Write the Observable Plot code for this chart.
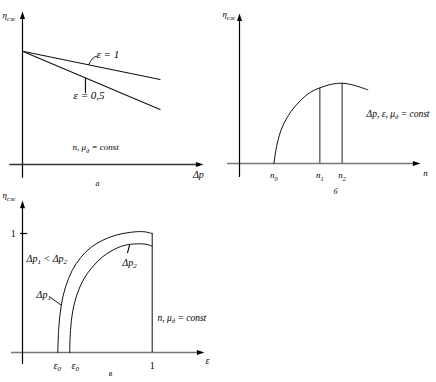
<!DOCTYPE html>
<html><head><meta charset="utf-8">
<script src="https://cdn.jsdelivr.net/npm/d3@7"></script>
<script src="https://cdn.jsdelivr.net/npm/@observablehq/plot@0.6"></script>
<style>
body{margin:0;background:#fff;}
#fig{position:relative;width:436px;height:382px;overflow:hidden;background:#fff;}
#fig svg{position:absolute;font-family:"Liberation Serif","Times New Roman",serif;}
#fig svg text, #fig svg tspan{font-family:"Liberation Serif","Times New Roman",serif;}
</style></head><body><div id="fig"></div>
<script>
// ---------- Panel а: η_сж vs Δp ----------
const dpA = [0, 0.76];
const etaEps1 = [0.74, 0.556];
const etaEps05 = [0.74, 0.36];
const leaderEps1X = [0.366, 0.385, 0.409];
const leaderEps1Y = [0.653, 0.69, 0.708];
const leaderEps05X = [0.348, 0.348];
const leaderEps05Y = [0.563, 0.47];
const labelsAText = ["η_{сж}", "ε = 1", "ε = 0,5", "n, μ_{д} = const", "а", "Δp"];
const labelsAX = [-0.11, 0.409, 0.282, 0.276, 0.414, 0.972];
const labelsAY = [0.974, 0.719, 0.451, 0.111, -0.124, -0.065];

// ---------- Panel б: η_сж vs n ----------
const nCurve = [0.19, 0.208, 0.236, 0.282, 0.337, 0.392, 0.444, 0.503, 0.567, 0.631, 0.709];
const etaCurveN = [0, 0.131, 0.242, 0.342, 0.42, 0.475, 0.504, 0.527, 0.535, 0.522, 0.491];
const nVert = [0.444, 0.567];
const etaVert = [0.504, 0.535];
const labelsBText = ["η_{сж}", "n_{0}", "n_{1}", "n_{2}", "n", "б", "Δp, ε, μ_{д} = const"];
const labelsBX = [-0.094, 0.19, 0.444, 0.567, 1.028, 0.53, 0.702];
const labelsBY = [0.993, -0.08, -0.08, -0.08, -0.067, -0.187, 0.333];

// ---------- Panel в: η_сж vs ε ----------
const epsOuter = [0.272, 0.280, 0.299, 0.331, 0.383, 0.447, 0.524, 0.614, 0.717, 0.833, 0.935, 1.0];
const etaOuter = [0, 0.213, 0.395, 0.549, 0.689, 0.796, 0.880, 0.941, 0.985, 1.010, 1.015, 1.0];
const epsInner = [0.364, 0.370, 0.388, 0.422, 0.473, 0.538, 0.614, 0.691, 0.781, 0.884, 0.961, 1.0];
const etaInner = [0, 0.185, 0.353, 0.493, 0.619, 0.717, 0.801, 0.857, 0.899, 0.913, 0.908, 0.893];
const leaderDp1X = [0.216, 0.296];
const leaderDp1Y = [0.462, 0.40];
const leaderDp2X = [0.81, 0.826];
const leaderDp2Y = [0.84, 0.905];
const labelsCText = ["η_{сж}", "Δp_{1} < Δp_{2}", "Δp_{1}", "Δp_{2}", "n, μ_{д} = const", "ε_{0}", "ε_{0}", "ε", "в"];
const labelsCX = [-0.154, 0.031, 0.108, 0.77, 1.04, 0.239, 0.378, 1.426, 0.678];
const labelsCY = [1.319, 0.79, 0.487, 0.756, 0.294, -0.109, -0.109, -0.067, -0.176];
const tickLabelsC = ["1", "1"];
const tickLabelsCX = [-0.072, 1.0];
const tickLabelsCY = [1.0, -0.109];

// ---------- helpers ----------
const zip = (xs, ys) => xs.map((x, i) => ({x, y: ys[i]}));
const arrowRight = {draw(ctx, size) { const s = Math.sqrt(size); ctx.moveTo(0, 0); ctx.lineTo(-s, -s * 0.33); ctx.lineTo(-s, s * 0.33); ctx.closePath(); }};
const arrowUp = {draw(ctx, size) { const s = Math.sqrt(size); ctx.moveTo(0, 0); ctx.lineTo(-s * 0.33, s); ctx.lineTo(s * 0.33, s); ctx.closePath(); }};

function axes(xr, yr, ux, uy, xStroke) {
  return [
    Plot.ruleY([0], {x1: xr[0], x2: xr[1] - 4 / ux, stroke: xStroke, strokeWidth: 1.7}),
    Plot.ruleX([0], {y1: yr[0], y2: yr[1] - 4 / uy, stroke: "#000", strokeWidth: 1.2}),
    Plot.dot([{x: xr[1], y: 0}], {x: "x", y: "y", symbol: arrowRight, r: 4.3, fill: "#000", stroke: "none"}),
    Plot.dot([{x: 0, y: yr[1]}], {x: "x", y: "y", symbol: arrowUp, r: 4.3, fill: "#000", stroke: "none"})
  ];
}
function labels(texts, xs, ys, anchors, sizes, styles) {
  return texts.map((t, i) => Plot.text([{x: xs[i], y: ys[i], t}], {
    x: "x", y: "y", text: "t", textAnchor: anchors[i], fontSize: sizes[i],
    fontFamily: "Liberation Serif",
    fontStyle: styles ? styles[i] : "italic", fill: "#000"
  }));
}
function subscripts(svg) {
  svg.querySelectorAll("text").forEach(t => {
    const s = t.textContent;
    if (!s.includes("_{")) return;
    t.textContent = "";
    const re = /_\{([^}]*)\}/g;
    let last = 0, m, afterSub = false;
    const ns = "http://www.w3.org/2000/svg";
    const addNormal = str => {
      if (!str) return;
      const ts = document.createElementNS(ns, "tspan");
      ts.textContent = str;
      if (afterSub) ts.setAttribute("dy", "-0.25em");
      afterSub = false;
      t.appendChild(ts);
    };
    while ((m = re.exec(s))) {
      addNormal(s.slice(last, m.index));
      if (afterSub) { const sp = document.createElementNS(ns, "tspan"); sp.setAttribute("dy", "-0.25em"); sp.textContent = "\u200a"; t.appendChild(sp); afterSub = false; }
      const sub = document.createElementNS(ns, "tspan");
      sub.setAttribute("font-size", "70%");
      sub.setAttribute("dy", "0.357em");
      sub.textContent = m[1];
      t.appendChild(sub);
      afterSub = true;
      last = re.lastIndex;
    }
    addNormal(s.slice(last));
  });
}
function panel({left, top, width, height, ox, oy, ux, uy, marks}) {
  const svg = Plot.plot({
    width, height,
    marginTop: 0, marginRight: 0, marginBottom: 0, marginLeft: 0,
    x: {domain: [-ox / ux, (width - ox) / ux], axis: null},
    y: {domain: [(oy - height) / uy, oy / uy], axis: null},
    style: {background: "transparent", overflow: "visible"},
    marks
  });
  svg.style.left = left + "px";
  svg.style.top = top + "px";
  subscripts(svg);
  document.getElementById("fig").appendChild(svg);
}

// ---------- Panel а ----------
panel({
  left: 0, top: 0, width: 218, height: 190, ox: 22, oy: 164, ux: 181, uy: 153,
  marks: [
    ...axes([-0.07, 1.0], [-0.09, 1.0], 181, 153, "#333"),
    Plot.line(zip(dpA, etaEps1), {x: "x", y: "y", stroke: "#111", strokeWidth: 1.1}),
    Plot.line(zip(dpA, etaEps05), {x: "x", y: "y", stroke: "#111", strokeWidth: 1.1}),
    Plot.line(zip(leaderEps1X, leaderEps1Y), {x: "x", y: "y", stroke: "#111", strokeWidth: 1, curve: "natural"}),
    Plot.line(zip(leaderEps05X, leaderEps05Y), {x: "x", y: "y", stroke: "#111", strokeWidth: 1.2}),
    ...labels(labelsAText, labelsAX, labelsAY,
      ["start", "start", "start", "start", "middle", "middle"], [9, 11, 11, 9, 8, 10])
  ]
});

// ---------- Panel б ----------
panel({
  left: 218, top: 0, width: 218, height: 198, ox: 21, oy: 163, ux: 181, uy: 150,
  marks: [
    ...axes([-0.066, 1.0], [-0.093, 1.0], 181, 150, "#777"),
    Plot.line(zip(nCurve, etaCurveN), {x: "x", y: "y", stroke: "#111", strokeWidth: 1, curve: "catmull-rom"}),
    Plot.ruleX(zip(nVert, etaVert), {x: "x", y1: 0, y2: "y", stroke: "#222", strokeWidth: 1}),
    ...labels(labelsBText, labelsBX, labelsBY,
      ["start", "middle", "middle", "middle", "middle", "middle", "start"], [9, 9, 9, 9, 9, 8, 9.5])
  ]
});

// ---------- Panel в ----------
panel({
  left: 0, top: 190, width: 218, height: 192, ox: 22, oy: 162, ux: 129.7, uy: 119,
  marks: [
    ...axes([-0.085, 1.403], [-0.1, 1.277], 129.7, 119, "#777"),
    Plot.ruleY([1], {x1: -0.015, x2: 0.04, stroke: "#000", strokeWidth: 1.2}),
    Plot.line(zip(epsOuter, etaOuter), {x: "x", y: "y", stroke: "#111", strokeWidth: 1, curve: "catmull-rom"}),
    Plot.line(zip(epsInner, etaInner), {x: "x", y: "y", stroke: "#111", strokeWidth: 1, curve: "catmull-rom"}),
    Plot.ruleX([1], {y1: 0, y2: etaOuter[etaOuter.length - 1], stroke: "#111", strokeWidth: 1}),
    Plot.line(zip(leaderDp1X, leaderDp1Y), {x: "x", y: "y", stroke: "#111", strokeWidth: 1}),
    Plot.line(zip(leaderDp2X, leaderDp2Y), {x: "x", y: "y", stroke: "#111", strokeWidth: 1.2}),
    ...labels(labelsCText, labelsCX, labelsCY,
      ["start", "start", "start", "start", "start", "start", "start", "middle", "middle"],
      [9, 10, 10, 10, 9.5, 10, 10, 10, 8]),
    ...labels(tickLabelsC, tickLabelsCX, tickLabelsCY, ["middle", "middle"], [10, 10], ["normal", "normal"])
  ]
});
</script></body></html>
